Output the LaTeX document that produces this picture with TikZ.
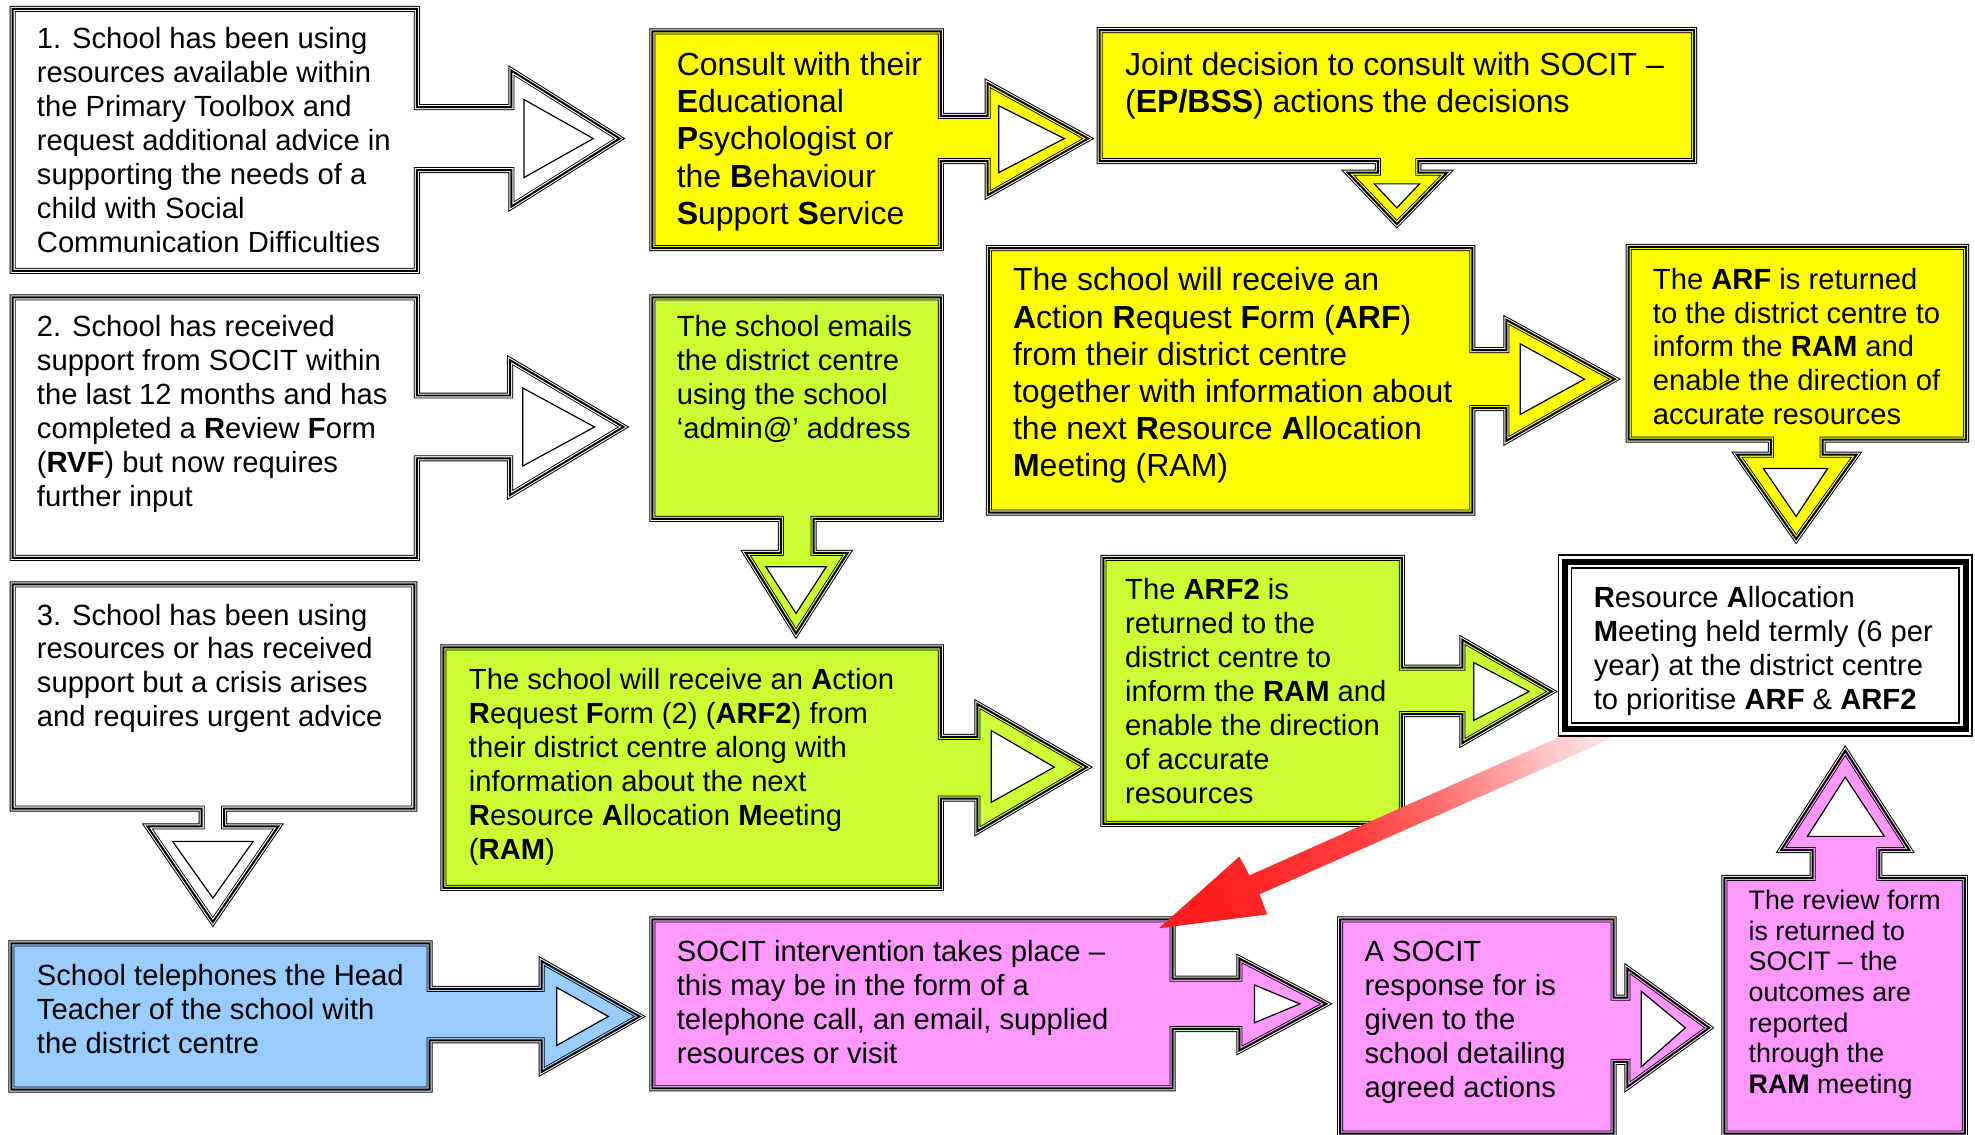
\documentclass[tikz,border=0pt]{standalone}
\usepackage{fontspec}
\setmainfont{Liberation Sans}
\definecolor{boxyellow}{RGB}{255,255,0}
\definecolor{boxgreen}{RGB}{204,255,51}
\definecolor{boxblue}{RGB}{153,204,255}
\definecolor{boxpink}{RGB}{255,153,255}
\definecolor{arrowred}{RGB}{255,30,30}
\pgfdeclarehorizontalshading{redfade}{100bp}{color(0bp)=(arrowred); color(25bp)=(arrowred); color(45bp)=(arrowred!85); color(55bp)=(arrowred!66); color(63bp)=(arrowred!46); color(70bp)=(arrowred!27); color(78bp)=(arrowred!11); color(100bp)=(arrowred!4)}
\newcommand{\bt}[1]{\textbf{#1}}
% box with its arrow, triple outline
\newcommand{\callout}[2]{%
	\fill[#1] #2;
	\draw[line width=3pt] #2;
	\draw[white, line width=2pt] #2;
	\begin{scope}\clip #2; \draw[#1, line width=2pt] #2; \end{scope}
	\draw[line width=1pt] #2;
}
\newcommand{\hollow}[1]{\filldraw[fill=white, line width=0.6pt] #1 -- cycle;}
\tikzset{
	txt/.style={anchor=north west, inner sep=0pt, align=left, font=\fontsize{14.6}{17}\selectfont},
	bigtxt/.style={txt, font=\fontsize{16}{18.6}\selectfont},
	smalltxt/.style={txt, font=\fontsize{13.4}{15.3}\selectfont}
}
\begin{document}
\begin{tikzpicture}[x=0.63pt, y=-0.63pt]
	\useasboundingbox (0,0) rectangle (1568,901);
	% row 1
	\callout{white}{(10,7) -- (331,7) -- (331,85) -- (406,85) -- (406,56) -- (492,110) -- (406,164) -- (406,135) -- (331,135) -- (331,215) -- (10,215) -- cycle}
	\hollow{(416,79) -- (471,110) -- (416,141)}
	\callout{boxyellow}{(518,25) -- (747,25) -- (747,92) -- (784,92) -- (784,66) -- (864,110) -- (784,155) -- (784,128) -- (747,128) -- (747,197) -- (518,197) -- cycle}
	\hollow{(793,84) -- (845,110) -- (793,137)}
	\callout{boxyellow}{(873,24) -- (1345,24) -- (1345,128) -- (1126,128) -- (1126,137) -- (1149,137) -- (1109,178) -- (1070,137) -- (1094,137) -- (1094,128) -- (873,128) -- cycle}
	\hollow{(1091,146) -- (1127,146) -- (1109,165)}
	% row 2
	\callout{white}{(10,236) -- (331,236) -- (331,314) -- (405,314) -- (405,286) -- (495,339) -- (405,393) -- (405,364) -- (331,364) -- (331,443) -- (10,443) -- cycle}
	\hollow{(415,308) -- (472,339) -- (415,370)}
	\callout{boxgreen}{(518,236) -- (747,236) -- (747,412) -- (646,412) -- (646,439) -- (673,439) -- (632,503) -- (592,439) -- (620,439) -- (620,412) -- (518,412) -- cycle}
	\hollow{(608,450) -- (656,450) -- (632,487)}
	\callout{boxyellow}{(785,197) -- (1169,197) -- (1169,278) -- (1196,278) -- (1196,254) -- (1282,301) -- (1196,350) -- (1196,324) -- (1169,324) -- (1169,407) -- (785,407) -- cycle}
	\hollow{(1207,273) -- (1258,301) -- (1207,329)}
	\callout{boxyellow}{(1293,196) -- (1561,196) -- (1561,349) -- (1447,349) -- (1447,361) -- (1474,361) -- (1426,428) -- (1379,361) -- (1406,361) -- (1406,349) -- (1293,349) -- cycle}
	\hollow{(1400,372) -- (1451,372) -- (1426,410)}
	% row 3
	\callout{white}{(10,464) -- (329,464) -- (329,642) -- (178,642) -- (178,656) -- (221,656) -- (169,732) -- (117,656) -- (160,656) -- (160,642) -- (10,642) -- cycle}
	\hollow{(137,668) -- (201,668) -- (169,713)}
	\callout{boxgreen}{(352,514) -- (747,514) -- (747,585) -- (776,585) -- (776,559) -- (863,609) -- (776,660) -- (776,634) -- (747,634) -- (747,705) -- (352,705) -- cycle}
	\hollow{(787,580) -- (837,609) -- (787,637)}
	\callout{boxgreen}{(876,443) -- (1113,443) -- (1113,530) -- (1161,530) -- (1161,508) -- (1232,549) -- (1161,590) -- (1161,567) -- (1113,567) -- (1113,654) -- (876,654) -- cycle}
	\hollow{(1170,526) -- (1214,549) -- (1170,572)}
	% row 4
	\callout{boxblue}{(9,749) -- (341,749) -- (341,785) -- (430,785) -- (430,763) -- (508,807) -- (430,851) -- (430,826) -- (341,826) -- (341,865) -- (9,865) -- cycle}
	\hollow{(442,784) -- (483,807) -- (442,830)}
	\callout{boxpink}{(518,730) -- (931,730) -- (931,777) -- (984,777) -- (984,761) -- (1053,797) -- (984,834) -- (984,817) -- (931,817) -- (931,864) -- (518,864) -- cycle}
	\hollow{(996,782) -- (1032,797) -- (996,812)}
	\callout{boxpink}{(1064,730) -- (1281,730) -- (1281,792) -- (1292,792) -- (1292,769) -- (1357,816) -- (1292,863) -- (1292,843) -- (1281,843) -- (1281,900) -- (1064,900) -- cycle}
	\hollow{(1303,787) -- (1338,816) -- (1303,847)}
	\callout{boxpink}{(1369,697) -- (1439,697) -- (1439,675) -- (1414,675) -- (1465,596) -- (1516,675) -- (1492,675) -- (1492,697) -- (1560,697) -- (1560,900) -- (1369,900) -- cycle}
	\hollow{(1435,664) -- (1496,664) -- (1465,617)}
	% red arrow back to the intervention box
	\coordinate (redtip) at (920,737);
	\shade[shading=redfade, shading angle=24] (redtip) -- (984,680) -- (992,695) -- (1261,575) -- (1305,575) -- (1000,710) -- (1006,726) -- cycle;
	% meeting box
	\fill[white] (1242.5,446) rectangle (1560.6,579);
	\draw[line width=7.4pt] (1242.5,446) rectangle (1560.6,579);
	\draw[white, line width=5.6pt] (1242.5,446) rectangle (1560.6,579);
	\draw[line width=3pt] (1242.5,446) rectangle (1560.6,579);
	% texts
	\node[txt] (school1) at (29,19) {\strut 1. School has been using\\resources available within\\the Primary Toolbox and\\request additional advice in\\supporting the needs of a\\child with Social\\Communication Difficulties};
	\node[bigtxt] (consult) at (537,39) {\strut Consult with their\\\bt{E}ducational\\\bt{P}sychologist or\\the \bt{B}ehaviour\\\bt{S}upport \bt{S}ervice};
	\node[bigtxt] (joint) at (893,39) {\strut Joint decision to consult with SOCIT –\\(\bt{EP/BSS}) actions the decisions};
	\node[txt] (school2) at (29,248) {\strut 2. School has received\\support from SOCIT within\\the last 12 months and has\\completed a \bt{R}eview \bt{F}orm\\(\bt{RVF}) but now requires\\further input};
	\node[txt] (emails) at (537,248) {\strut The school emails\\the district centre\\using the school\\‘admin@’ address};
	\node[bigtxt] (arf) at (804,210) {\strut The school will receive an\\\bt{A}ction \bt{R}equest \bt{F}orm (\bt{ARF})\\from their district centre\\together with information about\\the next \bt{R}esource \bt{A}llocation\\\bt{M}eeting (RAM)};
	\node[txt, font=\fontsize{14.6}{16.8}\selectfont] (arfback) at (1312,211) {\strut The \bt{ARF} is returned\\to the district centre to\\inform the \bt{RAM} and\\enable the direction of\\accurate resources};
	\node[txt] (school3) at (29,477) {\strut 3. School has been using\\resources or has received\\support but a crisis arises\\and requires urgent advice};
	\node[txt] (arftwo) at (372,528) {\strut The school will receive an \bt{A}ction\\\bt{R}equest \bt{F}orm (2) (\bt{ARF2}) from\\their district centre along with\\information about the next\\\bt{R}esource \bt{A}llocation \bt{M}eeting\\(\bt{RAM})};
	\node[txt] (arftwoback) at (893,457) {\strut The \bt{ARF2} is\\returned to the\\district centre to\\inform the \bt{RAM} and\\enable the direction\\of accurate\\resources};
	\node[txt] (ram) at (1265,463) {\strut\bt{R}esource \bt{A}llocation\\\bt{M}eeting held termly (6 per\\year) at the district centre\\to prioritise \bt{ARF} \& \bt{ARF2}};
	\node[txt] (phone) at (29,763) {\strut School telephones the Head\\Teacher of the school with\\the district centre};
	\node[txt] (socit) at (537,744) {\strut SOCIT intervention takes place –\\this may be in the form of a\\telephone call, an email, supplied\\resources or visit};
	\node[txt] (response) at (1083,744) {\strut A SOCIT\\response for is\\given to the\\school detailing\\agreed actions};
	\node[smalltxt] (review) at (1388,705) {\strut The review form\\is returned to\\SOCIT – the\\outcomes are\\reported\\through the\\\bt{RAM} meeting};
\end{tikzpicture}
\end{document}
